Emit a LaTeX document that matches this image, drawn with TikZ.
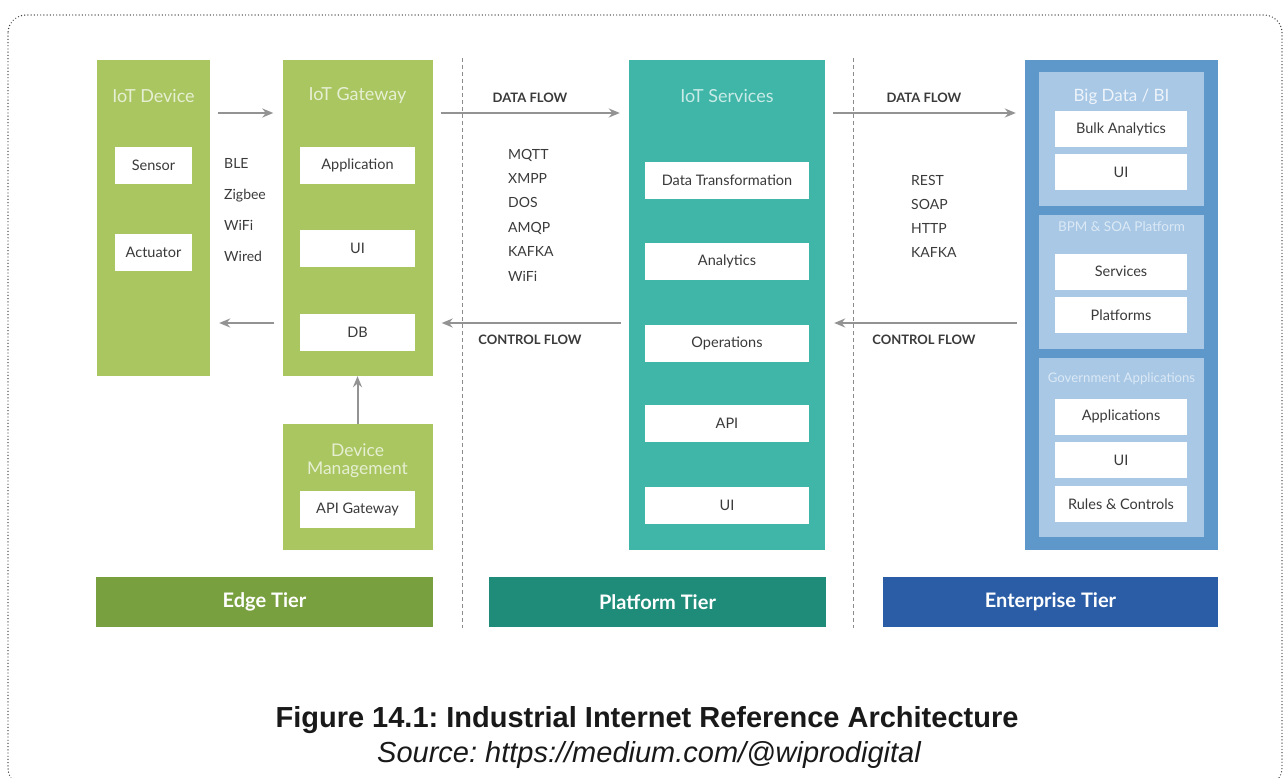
\documentclass[tikz,border=0pt]{standalone}
\usepackage{fontspec}
\setmainfont{Lato}
\newfontfamily\capfont{Liberation Sans}
\usetikzlibrary{arrows.meta}
\tikzset{>={Stealth[length=11pt,width=9pt]}}
\definecolor{leafGreen}{HTML}{A9C661}
\definecolor{edgeGreen}{HTML}{79A03F}
\definecolor{svcTeal}{HTML}{3FB6A8}
\definecolor{tierTeal}{HTML}{1F8B79}
\definecolor{entBlue}{HTML}{5E98CB}
\definecolor{entLight}{HTML}{A8C8E6}
\definecolor{tierBlue}{HTML}{2A5DA6}
\definecolor{arrowGray}{HTML}{939393}
\definecolor{itemText}{HTML}{3A3A3A}
\colorlet{frameGray}{black!75}

\tikzset{
	colbox/.style={rectangle, inner sep=0pt, draw=none},
	itembox/.style={rectangle, fill=white, text=itemText, inner sep=0pt, minimum height=37pt, font=\fontsize{14.5}{17}\selectfont},
	coltitle/.style={inner sep=0pt, font=\fontsize{18}{20}\selectfont},
	tierbar/.style={rectangle, inner sep=0pt, minimum height=50pt, text=white, font=\bfseries\fontsize{20}{23}\selectfont},
	plist/.style={anchor=west, align=left, inner sep=0pt, text=itemText},
	flowtag/.style={inner sep=0pt, text=itemText, font=\bfseries\fontsize{13}{15}\selectfont},
	flow/.style={->, draw=arrowGray, line width=2pt, shorten <=8pt, shorten >=9pt},
	divider/.style={draw=black!45, dash pattern=on 4pt off 3pt, line width=0.9pt}
}

\begin{document}
\begin{tikzpicture}[x=1pt,y=-1pt]
				\useasboundingbox (0,0) rectangle (1287,778);
				\draw[frameGray, line cap=round, dash pattern=on 0pt off 3.2pt, line width=1.4pt, rounded corners=18pt] (8,15) rectangle (1282,786);
				% edge tier
				\node[colbox, fill=leafGreen, minimum width=113pt, minimum height=316pt] (dev) at (153.5,218) {};
				\node[coltitle, text=white!72!leafGreen] (devTitle) at (153.5,96) {IoT Device};
				\node[itembox, minimum width=77pt] (sensor) at (153.5,165.5) {Sensor};
				\node[itembox, minimum width=77pt] (actuator) at (153.5,252) {Actuator};
				\node[colbox, fill=leafGreen, minimum width=150pt, minimum height=316pt] (gw) at (357.5,218) {};
				\node[coltitle, text=white!72!leafGreen] (gwTitle) at (357.5,96) {IoT Gateway};
				\node[itembox, minimum width=115pt] (app) at (357.5,165.5) {Application};
				\node[itembox, minimum width=115pt] (gwUI) at (357.5,248.5) {UI};
				\node[itembox, minimum width=115pt] (db) at (357.5,332) {DB};
				\node[colbox, fill=leafGreen, minimum width=150pt, minimum height=126pt] (dm) at (357.5,487) {};
				\node[coltitle, align=center, text=white!72!leafGreen, font=\fontsize{17.5}{18}\selectfont] (dmTitle) at (357.5,460.5) {Device\\Management};
				\node[itembox, minimum width=115pt] (apiGw) at (357.5,509) {API Gateway};
				\node[plist, font=\fontsize{14}{31}\selectfont] (radios) at (224,210) {BLE\\Zigbee\\WiFi\\Wired};
				% platform tier
				\node[colbox, fill=svcTeal, minimum width=196pt, minimum height=490pt] (svc) at (727,305) {};
				\node[coltitle, text=white!72!svcTeal] (svcTitle) at (727,96) {IoT Services};
				\node[itembox, minimum width=164pt] (transform) at (727,180.5) {Data Transformation};
				\node[itembox, minimum width=164pt] (analytics) at (727,261.5) {Analytics};
				\node[itembox, minimum width=164pt] (ops) at (727,343) {Operations};
				\node[itembox, minimum width=164pt] (api) at (727,423.5) {API};
				\node[itembox, minimum width=164pt] (svcUI) at (727,505.5) {UI};
				\node[plist, font=\fontsize{14}{24.4}\selectfont] (brokers) at (508,215) {MQTT\\XMPP\\DOS\\AMQP\\KAFKA\\WiFi};
				% enterprise tier
				\node[colbox, fill=entBlue, minimum width=193pt, minimum height=490pt] (ent) at (1121.5,305) {};
				\node[colbox, fill=entLight, minimum width=165pt, minimum height=134pt] (bigData) at (1121.5,139) {};
				\node[coltitle, text=white!80!entLight, font=\fontsize{17}{19}\selectfont] (bigDataTitle) at (1121.5,97) {Big Data / BI};
				\node[itembox, minimum width=132pt, minimum height=36pt] (bulk) at (1121,129) {Bulk Analytics};
				\node[itembox, minimum width=132pt, minimum height=36pt] (bdUI) at (1121,172) {UI};
				\node[colbox, fill=entLight, minimum width=165pt, minimum height=134pt] (bpm) at (1121.5,282) {};
				\node[coltitle, text=white!60!entLight, font=\fontsize{13.5}{15}\selectfont] (bpmTitle) at (1121.5,227) {BPM \& SOA Platform};
				\node[itembox, minimum width=132pt, minimum height=36pt] (services) at (1121,271.5) {Services};
				\node[itembox, minimum width=132pt, minimum height=36pt] (platforms) at (1121,315) {Platforms};
				\node[colbox, fill=entLight, minimum width=165pt, minimum height=179pt] (gov) at (1121.5,447.5) {};
				\node[coltitle, text=white!60!entLight, font=\fontsize{13.2}{15}\selectfont] (govTitle) at (1121.5,379) {Government Applications};
				\node[itembox, minimum width=132pt, minimum height=36pt] (apps) at (1121,416.5) {Applications};
				\node[itembox, minimum width=132pt, minimum height=36pt] (govUI) at (1121,460) {UI};
				\node[itembox, minimum width=132pt, minimum height=36pt] (rules) at (1121,504) {Rules \& Controls};
				\node[plist, font=\fontsize{14}{24}\selectfont] (apis) at (911,216) {REST\\SOAP\\HTTP\\KAFKA};
				% tiers
				\node[tierbar, fill=edgeGreen, minimum width=337pt] (edgeTier) at (264.5,602) {Edge Tier};
				\node[tierbar, fill=tierTeal, minimum width=337pt] (platformTier) at (657.5,602) {Platform Tier};
				\node[tierbar, fill=tierBlue, minimum width=335pt] (entTier) at (1050.5,602) {Enterprise Tier};
				\draw[divider] (462,58) -- (462,628);
				\draw[divider] (853,58) -- (853,628);
				% flows
				\coordinate (upper) at (0,113);
				\coordinate (lower) at (0,323);
				\draw[flow] (dev.east |- upper) -- (gw.west |- upper);
				\draw[flow] (gw.west |- lower) -- (dev.east |- lower);
				\draw[flow] (gw.east |- upper) -- (svc.west |- upper);
				\draw[flow] (svc.west |- lower) -- (gw.east |- lower);
				\draw[flow] (svc.east |- upper) -- (ent.west |- upper);
				\draw[flow] (ent.west |- lower) -- (svc.east |- lower);
				\draw[flow, shorten <=0pt, shorten >=0pt] (dm.north) -- (gw.south);
				\node[flowtag] (dataA) at (530,98) {DATA FLOW};
				\node[flowtag] (ctrlA) at (530,340) {CONTROL FLOW};
				\node[flowtag] (dataB) at (924,98) {DATA FLOW};
				\node[flowtag] (ctrlB) at (924,340) {CONTROL FLOW};
				% caption
				\node[anchor=base, inner sep=0pt, font=\capfont\bfseries\fontsize{29}{33}\selectfont\frenchspacing, text=black!90] (caption) at (647,727) {Figure 14.1: Industrial Internet Reference Architecture};
				\node[anchor=base, inner sep=0pt, font=\capfont\itshape\fontsize{29}{33}\selectfont\frenchspacing, text=black!90] (source) at (649,762) {Source: https://medium.com/@wiprodigital};
\end{tikzpicture}
\end{document}
